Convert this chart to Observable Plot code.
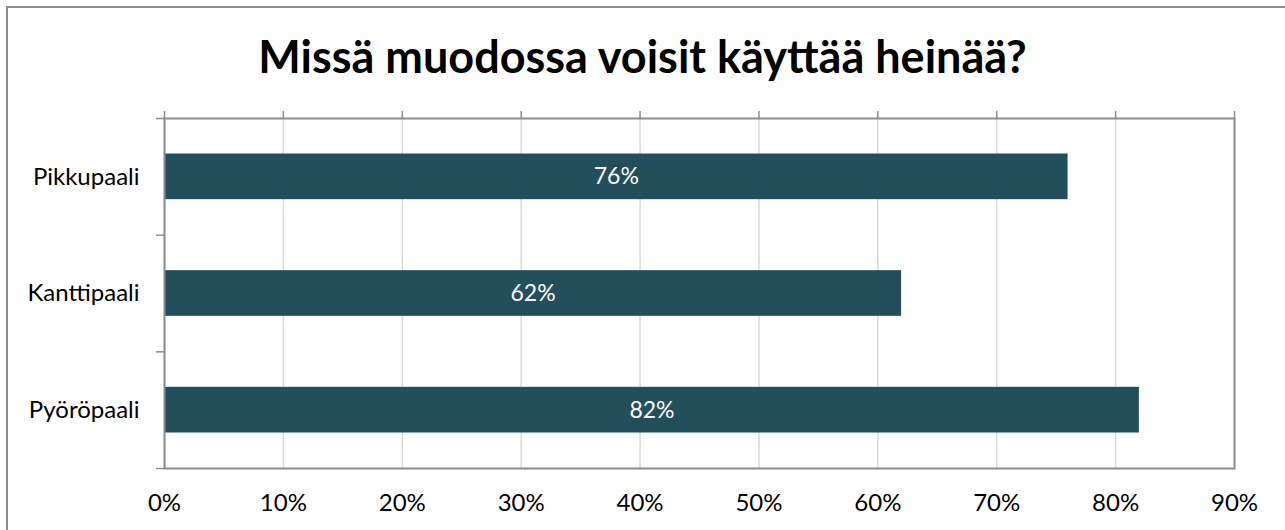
<!DOCTYPE html>
<html>
<head>
<meta charset="utf-8">
<script src="https://cdn.jsdelivr.net/npm/d3@7"></script>
<script src="https://cdn.jsdelivr.net/npm/@observablehq/plot@0.6"></script>
<style>
  html, body { margin: 0; padding: 0; background: #fff; }
  #wrap { position: relative; width: 1285px; height: 530px; overflow: hidden; font-family: Lato, sans-serif; }
  #border { position: absolute; left: 6px; top: 6px; right: 0; bottom: 0; border-top: 2px solid #8c8c8c; border-left: 2px solid #8c8c8c; }
  #title { position: absolute; left: 0; top: 0; width: 1285px; height: 100px; text-align: center; font-weight: bold; font-size: 45px; line-height: 1; padding-top: 34px; box-sizing: border-box; color: #000; }
  #chart { position: absolute; left: 0; top: 100px; }
  #chart svg text { font-family: Lato, sans-serif; }
</style>
</head>
<body>
<div id="wrap">
  <div id="border"></div>
  <div id="title">Missä muodossa voisit käyttää heinää?</div>
  <div id="chart"></div>
</div>
<script>
const categories = ["Pikkupaali", "Kanttipaali", "Pyöröpaali"];
const values = [76, 62, 82];
const xTicks = [0, 10, 20, 30, 40, 50, 60, 70, 80, 90];

const data = categories.map((c, i) => ({ name: c, idx: i, value: values[i] }));
const fontFam = "Lato, sans-serif";

const plot = Plot.plot({
  width: 1285,
  height: 430,
  marginLeft: 164,
  marginRight: 51,
  marginTop: 18,
  marginBottom: 62,
  style: { fontFamily: fontFam, fontSize: "24px", color: "#000", background: "transparent" },
  x: { domain: [0, 90] },
  y: { domain: [0, 3], reverse: true },
  marks: [
    Plot.gridX(xTicks, { stroke: "#d9d9d9", strokeOpacity: 1, strokeWidth: 1.5 }),
    Plot.rectX(data, { x1: 0, x2: "value", y1: d => d.idx, y2: d => d.idx + 1, insetTop: 35.5, insetBottom: 35.5, fill: "#234e5c" }),
    Plot.text(data, { x: d => d.value / 2, y: d => d.idx + 0.5, text: d => d.value + "%", fill: "#fff", fontSize: 23 }),
    Plot.frame({ stroke: "#8c8c8c", strokeWidth: 2 }),
    Plot.axisX(xTicks, { anchor: "top", tickSize: 8, tickFormat: () => "", stroke: "#8c8c8c", strokeWidth: 1.5, label: null }),
    Plot.axisX(xTicks, { anchor: "bottom", tickSize: 0, tickPadding: 25, tickFormat: d => d + "%", label: null, fontSize: 24, fill: "#000" }),
    Plot.axisY([0, 1, 2, 3], { anchor: "left", tickSize: 8, tickFormat: () => "", stroke: "#8c8c8c", strokeWidth: 1.5, label: null }),
    Plot.axisY(categories.map((c, i) => i + 0.5), { anchor: "left", tickSize: 0, tickPadding: 25, tickFormat: d => categories[Math.floor(d)], label: null, fontSize: 24, fill: "#000" })
  ]
});
document.getElementById("chart").appendChild(plot);
</script>
</body>
</html>
